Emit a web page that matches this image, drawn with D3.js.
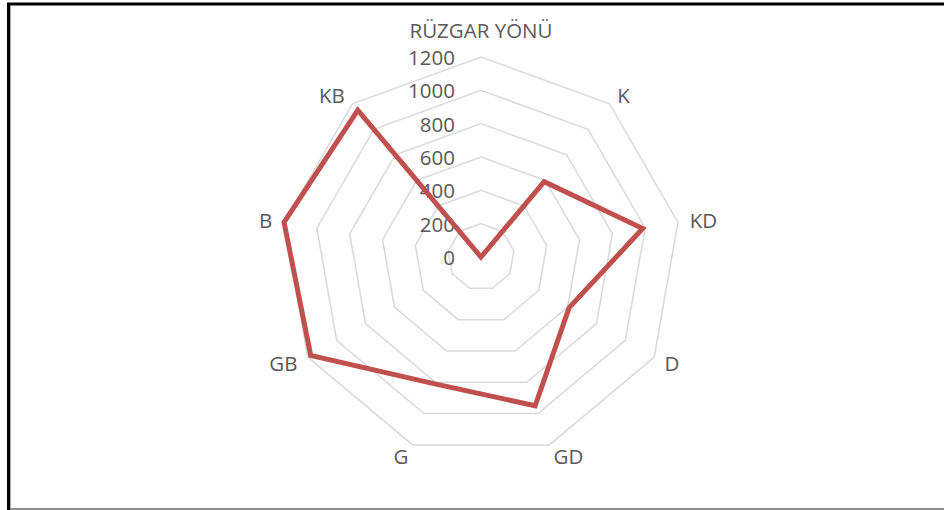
<!DOCTYPE html>
<html>
<head>
<meta charset="utf-8">
<script src="https://cdn.jsdelivr.net/npm/d3@7"></script>
<style>
    body { margin: 0; background: #fff; }
    svg { display: block; }
    text { font-family: "Open Sans", sans-serif; fill: #595959; }
</style>
</head>
<body>
<div id="radar_chart"></div>
<script>
// wind direction counts
const categories = ["RÜZGAR YÖNÜ", "K", "KD", "D", "GD", "G", "GB", "B", "KB"];
const values = [0, 590, 985, 610, 950, 810, 1180, 1200, 1150];
const ticks = [0, 200, 400, 600, 800, 1000, 1200];

const width = 944;
const height = 510;
const cx = 481, cy = 257;
const radius = 200;

const svg = d3.select("#radar_chart")
    .append("svg")
    .attr("width", width)
    .attr("height", height);

// frame of the pasted chart
svg.append("line").attr("x1", 7).attr("x2", width).attr("y1", 4).attr("y2", 4)
    .attr("stroke", "#000").attr("stroke-width", 3);
svg.append("line").attr("x1", 8.5).attr("x2", 8.5).attr("y1", 3).attr("y2", height)
    .attr("stroke", "#000").attr("stroke-width", 3);
svg.append("line").attr("x1", 10.5).attr("x2", 10.5).attr("y1", 6).attr("y2", height)
    .attr("stroke", "#a6a6a6").attr("stroke-width", 1);
svg.append("line").attr("x1", 10).attr("x2", width).attr("y1", 509).attr("y2", 509)
    .attr("stroke", "#8c8c8c").attr("stroke-width", 2);

const g = svg.append("g")
    .attr("transform", `translate(${cx}, ${cy})`);

const rScale = d3.scaleLinear()
    .domain([0, 1200])
    .range([0, radius]);

const angle = d3.scaleLinear()
    .domain([0, categories.length])
    .range([0, 2 * Math.PI]);

// grid rings (no spokes)
const ring = d3.lineRadial()
    .angle((d, i) => angle(i))
    .radius(d => rScale(d))
    .curve(d3.curveLinearClosed);

g.selectAll(".ring")
    .data(ticks.filter(t => t > 0))
    .enter()
    .append("path")
    .attr("class", "ring")
    .attr("d", t => ring(categories.map(() => t)))
    .attr("fill", "none")
    .attr("stroke", "#d9d9d9")
    .attr("stroke-width", 1.5);

// value labels on the left of the vertical axis
g.selectAll(".tick-label")
    .data(ticks)
    .enter()
    .append("text")
    .attr("class", "tick-label")
    .attr("x", -26)
    .attr("y", d => -rScale(d))
    .attr("text-anchor", "end")
    .attr("dominant-baseline", "central")
    .style("font-size", "20.5px")
    .text(d => d);

// data line
const line = d3.lineRadial()
    .angle((d, i) => angle(i))
    .radius(d => rScale(d))
    .curve(d3.curveLinearClosed);

g.append("path")
    .datum(values)
    .attr("d", line)
    .attr("fill", "none")
    .attr("stroke", "#c0504d")
    .attr("stroke-width", 5)
    .attr("stroke-linejoin", "miter");

// category labels
g.selectAll(".cat-label")
    .data(categories)
    .enter()
    .append("text")
    .attr("class", "cat-label")
    .each(function (d, i) {
        const a = angle(i);
        const s = Math.sin(a), c = Math.cos(a);
        const lr = radius + 12;
        const el = d3.select(this);
        el.attr("x", s * lr)
            .attr("y", -c * lr)
            .attr("text-anchor", Math.abs(s) < 0.1 ? "middle" : (s > 0 ? "start" : "end"))
            .attr("dominant-baseline", "central");
        if (Math.abs(s) < 0.1 && c > 0) {
            el.attr("y", -radius - 19).attr("dominant-baseline", "auto");
        }
    })
    .style("font-size", "20.5px")
    .text(d => d);
</script>
</body>
</html>
